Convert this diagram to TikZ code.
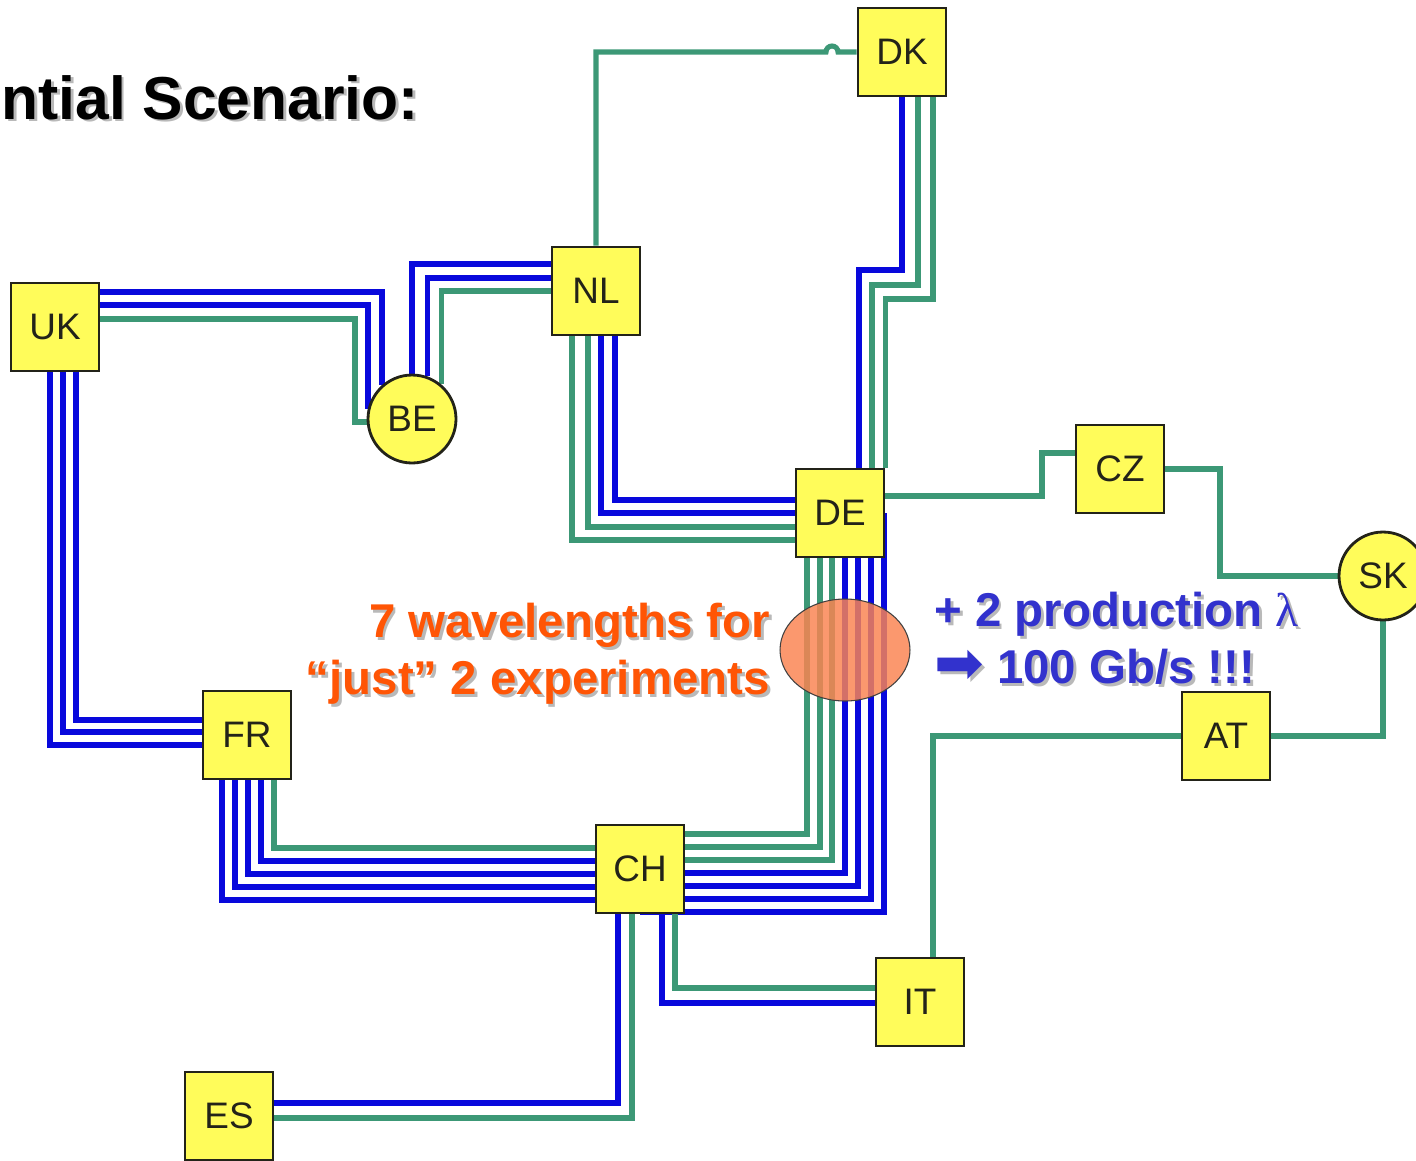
\documentclass[tikz,border=0pt]{standalone}
\usepackage{fontspec}
\setmainfont{Liberation Sans}
\newfontfamily\arrowfont{DejaVu Sans}
\newfontfamily\lambdafont{Liberation Serif}
\usepackage{tikz}
\usetikzlibrary{calc,positioning}
\definecolor{fibreblue}{RGB}{8,8,220}
\definecolor{fibregreen}{RGB}{60,152,118}
\definecolor{boxyellow}{RGB}{255,252,90}
\definecolor{boxedge}{RGB}{35,35,25}
\definecolor{warnorange}{RGB}{255,85,5}
\definecolor{prodblue}{RGB}{50,50,205}
\definecolor{shadegray}{RGB}{185,185,185}
\definecolor{blobfill}{RGB}{250,132,82}
\newcommand{\dropshade}[1]{\makebox[0pt][l]{\hspace{1.6pt}\raisebox{-1.6pt}{\textcolor{shadegray}{#1}}}#1}
\pgfdeclarelayer{fibres}
\pgfsetlayers{fibres,main}

\begin{document}
\begin{tikzpicture}[x={(0.02cm,0)},y={(0,-0.02cm)},line join=miter,
        bl/.style={draw=fibreblue,line width=3.2pt},
        gr/.style={draw=fibregreen,line width=2.9pt}]
        \tikzstyle{country}=[draw=boxedge,fill=boxyellow,line width=1.6pt,minimum size=1.76cm,inner sep=0pt,text=boxedge,font=\fontsize{21}{24}\selectfont]
        \useasboundingbox (0,0) rectangle (1416,1160);
        \node[country](DK) at (902,52){DK};
        \node[country](NL) at (596,291){NL};
        \node[country](UK) at (55,327){UK};
        \node[country,circle](BE) at (412,419){BE};
        \node[country](DE) at (840,513){DE};
        \node[country](CZ) at (1120,469){CZ};
        \node[country,circle](SK) at (1383,576){SK};
        \node[country](AT) at (1226,736){AT};
        \node[country](FR) at (247,735){FR};
        \node[country](CH) at (640,869){CH};
        \node[country](IT) at (920,1002){IT};
        \node[country](ES) at (229,1116){ES};

        \begin{pgfonlayer}{fibres}
        \draw[bl] ($(UK)+(0,-35)$) -| (BE.131);
        \draw[bl] ($(UK)+(0,-22)$) -| (BE.167);
        \draw[gr] ($(UK)+(0,-8)$) -| ($(BE)+(-57,3)$) -- ($(BE)+(0,3)$);
        \draw[bl] (BE) |- ($(NL)+(0,-27)$);
        \draw[bl] (BE.70) |- ($(NL)+(0,-13)$);
        \draw[gr] (BE.50) |- (NL);
        \draw[gr] (NL) |- ($(DK)+(-76,0)$) arc[start angle=180,end angle=0,radius=0.12cm] -- (DK);
        \draw[bl] (DK) -- ++(0,218) -| ($(DE)+(19,0)$);
        \draw[gr] ($(DK)+(16,0)$) -- ++(0,233) -| ($(DE)+(32,0)$);
        \draw[gr] ($(DK)+(31,0)$) -- ++(0,247) -| (DE.north east);
        \draw[gr] ($(NL)+(-24,0)$) |- ($(DE)+(0,27)$);
        \draw[gr] ($(NL)+(-8,0)$) |- ($(DE)+(0,14)$);
        \draw[bl] ($(NL)+(5,0)$) |- (DE);
        \draw[bl] ($(NL)+(19,0)$) |- ($(DE)+(0,-13)$);
        \draw[gr] ($(DE)+(0,-17)$) -| ($(CZ)+(-78,-16)$) -- ($(CZ)+(0,-16)$);
        \draw[gr] (CZ) -| ($(SK)+(-163,0)$) -- (SK);
        \draw[gr] (SK) |- (AT);
        \draw[gr] (AT) -| ($(IT)+(13,0)$);
        \draw[bl] ($(UK)+(-5,0)$) |- ($(FR)+(0,10)$);
        \draw[bl] ($(UK)+(8,0)$) |- ($(FR)+(0,-3)$);
        \draw[bl] ($(UK)+(21,0)$) |- ($(FR)+(0,-15)$);
        \draw[bl] ($(FR)+(-25,0)$) |- ($(CH)+(0,31)$);
        \draw[bl] ($(FR)+(-12,0)$) |- ($(CH)+(0,18)$);
        \draw[bl] ($(FR)+(1,0)$) |- ($(CH)+(0,5)$);
        \draw[bl] ($(FR)+(14,0)$) |- ($(CH)+(0,-8)$);
        \draw[gr] ($(FR)+(27,0)$) |- ($(CH)+(0,-21)$);
        \draw[gr] ($(CH)+(0,-35)$) -| ($(DE)+(-33,0)$);
        \draw[gr] ($(CH)+(0,-22)$) -| ($(DE)+(-20,0)$);
        \draw[gr] ($(CH)+(0,-9)$) -| ($(DE)+(-8,0)$);
        \draw[bl] ($(CH)+(0,4)$) -| ($(DE)+(5,0)$);
        \draw[bl] ($(CH)+(0,17)$) -| ($(DE)+(18,0)$);
        \draw[bl] ($(CH)+(0,30)$) -| ($(DE)+(31,0)$);
        \draw[bl] ($(CH)+(0,43)$) -| ($(DE)+(44,0)$);
        \draw[bl] ($(CH)+(-22,0)$) |- ($(ES)+(0,-13)$);
        \draw[gr] ($(CH)+(-8,0)$) |- ($(ES)+(0,2)$);
        \draw[bl] ($(CH)+(22,0)$) |- ($(IT)+(0,1)$);
        \draw[gr] ($(CH)+(35,0)$) |- ($(IT)+(0,-14)$);
        \end{pgfonlayer}

        \draw[draw=black!75,line width=0.6pt,fill=blobfill,fill opacity=0.84] (845,650) ellipse [x radius=1.3cm,y radius=1.02cm];

        \node[font=\bfseries\fontsize{34.5}{41}\selectfont,inner sep=0pt,anchor=base west](title) at (1,119){\dropshade{ntial Scenario:}};
        \node[font=\bfseries\fontsize{27}{32.4}\selectfont,text=warnorange,align=right,anchor=east](wavetext) at (776,655){\dropshade{7 wavelengths for}\\\dropshade{“just” 2 experiments}};
        \node[font=\bfseries\fontsize{27}{32.4}\selectfont,text=prodblue,align=left,anchor=west](prodtext) at (928,640){\dropshade{+ 2 production {\lambdafont\mdseries λ}}\\\dropshade{\scalebox{1.25}{\arrowfont\mdseries ➡} 100 Gb/s !!!}};
\end{tikzpicture}
\end{document}
